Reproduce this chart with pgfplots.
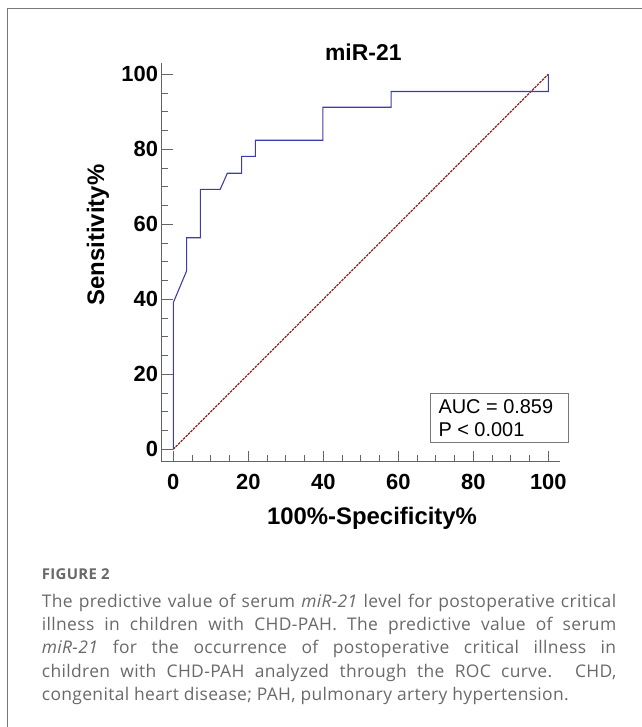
\documentclass[border=0pt]{standalone}
\usepackage{pgfplots}
\pgfplotsset{compat=1.18}
\usepackage{fontspec}
\setmainfont{Liberation Sans}
\newfontfamily\capfont[LetterSpace=2]{Open Sans}
\definecolor{roc}{RGB}{60,60,175}
\definecolor{diag}{RGB}{150,30,30}
\definecolor{spine}{RGB}{100,100,100}
\definecolor{capgray}{RGB}{105,105,105}
\definecolor{frame}{RGB}{120,120,120}
\begin{document}
\begin{tikzpicture}[x=1bp,y=1bp]
\useasboundingbox (0,0) rectangle (642,727);
\draw[frame, line width=1.2bp] (7.3,0) -- (7.3,718.5) -- (642,718.5);
\begin{axis}[
  at={(173.3bp,277.7bp)}, anchor=origin,
  x=3.75bp, y=3.75bp,
  xmin=-3.1, xmax=103, ymin=-3.3, ymax=103,
  axis lines=left, axis line style={-, draw=spine, line width=1bp},
  tick align=inside,
  xtick={0,20,...,100}, ytick={0,20,...,100},
  minor x tick num=3, minor y tick num=3,
  major tick length=11bp, minor tick length=6.5bp,
  tick style={draw=spine, line width=0.9bp},
  /pgf/number format/assume math mode=true,
  ticklabel style={font=\bfseries\fontsize{22}{24}\selectfont, inner sep=0pt},
  xticklabel style={anchor=north, yshift=-12bp},
  yticklabel style={anchor=east, xshift=-3.5bp},
  clip=false,
]
\addplot[diag, line width=1.25bp, dash pattern=on 2.5bp off 1bp] coordinates {(0,0) (100,100)};
\addplot[roc, line width=1.1bp, line join=miter] coordinates {
(0,0) (0,39.1) (3.56,47.6) (3.56,56.4) (7.2,56.4) (7.2,69.3) (12.5,69.3)
(14.4,73.6) (18.2,73.6) (18.2,78.1) (21.9,78.1) (21.9,82.4) (39.9,82.4)
(39.9,91.2) (58.1,91.2) (58.1,95.4) (100,95.4) (100,100)};
\end{axis}
\node[font=\bfseries\fontsize{23}{25}\selectfont] at (363.3,674.3) {miR-21};
\node[font=\bfseries\fontsize{24}{26}\selectfont, rotate=90] at (98,492) {Sensitivity\%};
\node[font=\bfseries\fontsize{24}{26}\selectfont] at (372,209) {100\%-Specificity\%};
\draw[frame, line width=1bp] (430.7,284.3) rectangle (568.3,333.7);
\node[anchor=west, font=\fontsize{20}{22}\selectfont, inner sep=0pt] at (438.3,320.3) {AUC = 0.859};
\node[anchor=west, font=\fontsize{20}{22}\selectfont, inner sep=0pt] at (438.3,297) {P < 0.001};
\node[anchor=base west, inner sep=0pt, font=\capfont\bfseries\fontsize{15}{17}\selectfont, text=capgray] at (41.7,147) {FIGURE 2};
\node[anchor=north west, inner sep=0pt, text width=574.3bp, align=justify, font=\capfont\fontsize{17.5}{23.3}\selectfont, text=capgray] at (41.7,133) {The predictive value of serum \textit{miR-21} level for postoperative critical\linebreak illness in children with CHD-PAH. The predictive value of serum\linebreak \textit{miR-21} for the occurrence of postoperative critical illness in\linebreak children with CHD-PAH analyzed through the ROC curve. CHD,\linebreak congenital heart disease; PAH, pulmonary artery hypertension.};
\end{tikzpicture}
\end{document}
